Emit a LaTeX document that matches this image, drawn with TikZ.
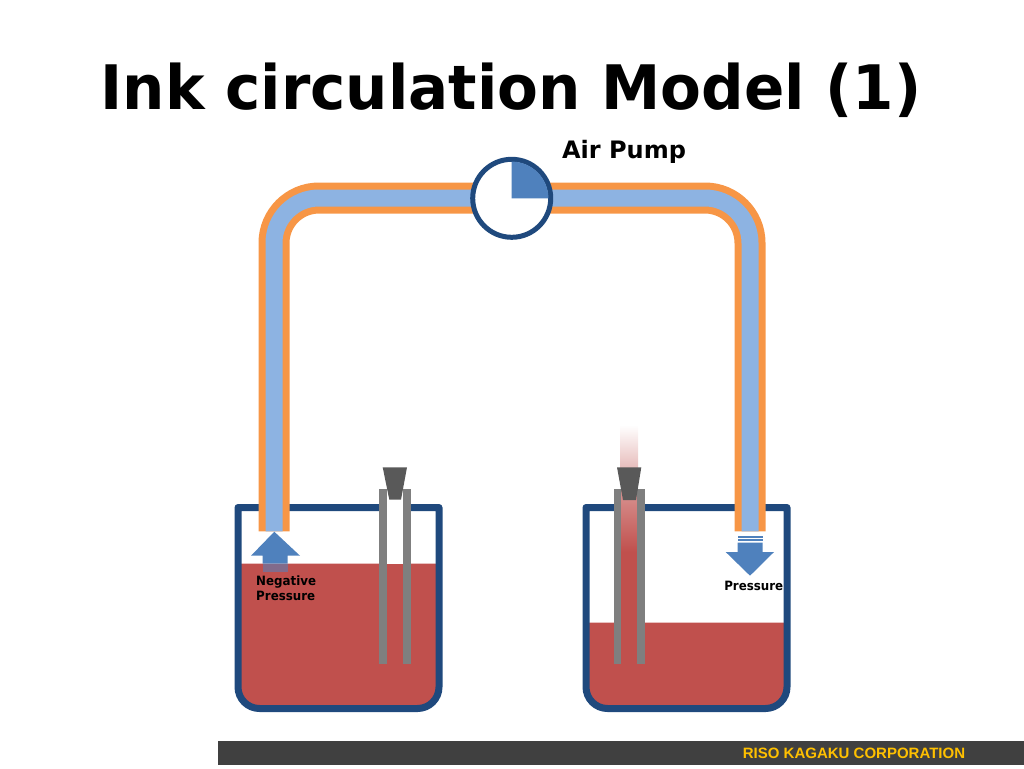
\documentclass[tikz,border=0pt]{standalone}
\usepackage{fontspec}
\setmainfont{DejaVu Sans}
\newfontfamily\footfont{Liberation Sans}
\usetikzlibrary{shadings}
\definecolor{orangepipe}{HTML}{F79646}
\definecolor{bluepipe}{HTML}{8DB3E2}
\definecolor{navy}{HTML}{1F497D}
\definecolor{arrowblue}{HTML}{4F81BD}
\definecolor{ink}{HTML}{C0504D}
\definecolor{tubegray}{HTML}{7F7F7F}
\definecolor{conegray}{HTML}{595959}
\definecolor{barcolor}{HTML}{404040}
\definecolor{footgold}{HTML}{FFC000}
\tikzset{
  pipeouter/.style={draw=orangepipe,line width=23.25pt,rounded corners=33.75pt},
  pipeinner/.style={draw=bluepipe,line width=12.75pt,rounded corners=33.75pt},
  beaker/.style={draw=navy,line width=5.25pt,line join=round},
  inkfill/.style={fill=ink},
  tubewall/.style={fill=tubegray},
  conefill/.style={fill=conegray},
  arrowfill/.style={fill=arrowblue},
  smalllabel/.style={font=\fontsize{9.6pt}{11.4pt}\selectfont\bfseries,text=black,inner sep=0pt,align=left,xscale=0.925},
  pumpnode/.style={circle,draw=navy,line width=3.75pt,fill=white,minimum size=58.5pt,inner sep=0pt}
}
\begin{document}
\begin{tikzpicture}[x=0.75pt,y=-0.75pt]
\useasboundingbox (0,0) rectangle (1024,768);
% footer bar
\fill[barcolor] (218,741) rectangle (1024,765);
\node[font=\footfont\bfseries\fontsize{11.25pt}{13pt}\selectfont,text=footgold,inner sep=0pt] (footer) at (854,753.5) {RISO KAGAKU CORPORATION};
% title
\node[font=\fontsize{46pt}{54pt}\selectfont\bfseries,inner sep=0pt,xscale=0.97] (title) at (511,90) {Ink circulation Model (1)};
\node[font=\fontsize{18pt}{22pt}\selectfont\bfseries,inner sep=0pt] (airpump) at (624,152) {Air Pump};
% ink
\fill[inkfill] (238,563.7) -- (439,563.7) -- (439,690) arc[start angle=0,end angle=90,radius=19] -- (257,709) arc[start angle=90,end angle=180,radius=19] -- cycle;
\fill[inkfill] (586,622.7) -- (787,622.7) -- (787,690) arc[start angle=0,end angle=90,radius=19] -- (605,709) arc[start angle=90,end angle=180,radius=19] -- cycle;
% beakers
\draw[beaker] (238,507.5) -- (439,507.5) -- (439,687) arc[start angle=0,end angle=90,radius=21.5] -- (259.5,708.5) arc[start angle=90,end angle=180,radius=21.5] -- cycle;
\draw[beaker] (586,507.5) -- (787,507.5) -- (787,687) arc[start angle=0,end angle=90,radius=21.5] -- (607.5,708.5) arc[start angle=90,end angle=180,radius=21.5] -- cycle;
% pump and pipe
\coordinate (pipeL) at (274,531.3);
\coordinate (pipeR) at (750,531.3);
\draw[pipeouter] (pipeL) -- (274,198) -- (750,198) -- (pipeR);
\draw[pipeinner] (pipeL) -- (274,198) -- (750,198) -- (pipeR);
\node[pumpnode] (pump) at (511.7,198.3) {};
\fill[arrowblue] (pump.center) -- (511.7,161.6) arc[start angle=-90,end angle=0,radius=36.7] -- cycle;
% left tubes
\fill[tubewall] (379.3,489) rectangle (386.7,663.7);
\fill[tubewall] (403.3,489) rectangle (410.5,663.7);
\fill[white] (386.7,489) rectangle (403.3,563.7);
\fill[conefill] (382.7,467.3) -- (407,467.3) -- (401,499.7) -- (389.3,499.7) -- cycle;
% right tubes
\shade[top color=white,bottom color=ink!38!white] (620,425) rectangle (638,468);
\shade[top color=ink!62!white,bottom color=ink] (621,490) rectangle (637.3,552);
\fill[inkfill] (621,552) rectangle (637.3,664);
\fill[tubewall] (613.7,489) rectangle (621,663.7);
\fill[tubewall] (637.3,489) rectangle (644.7,663.7);
\fill[conefill] (617,467.3) -- (641.3,467.3) -- (636,500) -- (623,500) -- cycle;
% arrows
\fill[arrowfill] (274.3,531.7) -- (300,555.7) -- (287.7,555.7) -- (287.7,563.7) -- (262.7,563.7) -- (262.7,555.7) -- (251,555.7) -- cycle;
\fill[arrowblue!55!ink] (262.7,563.7) rectangle (287.7,571.7);
\fill[arrowfill] (737.5,542.5) -- (762.5,542.5) -- (762.5,552) -- (774,552) -- (750,575.7) -- (725.7,552) -- (737.5,552) -- cycle;
\fill[arrowfill] (737.5,536) rectangle (762.5,537.6);
\fill[arrowfill] (737.5,539.2) rectangle (762.5,540.8);
% labels
\node[smalllabel,anchor=west] (negpress) at (256,588.5) {Negative\\Pressure};
\node[smalllabel,anchor=west] (press) at (724,585.5) {Pressure};
\end{tikzpicture}
\end{document}
